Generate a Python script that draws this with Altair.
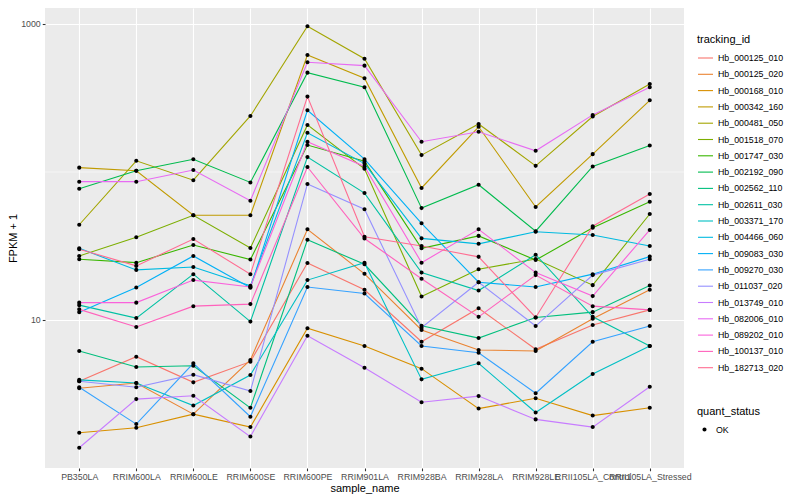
import altair as alt
import pandas as pd

samples = ["PB350LA", "RRIM600LA", "RRIM600LE", "RRIM600SE", "RRIM600PE", "RRIM901LA",
           "RRIM928BA", "RRIM928LA", "RRIM928LE", "RRII105LA_Control", "RRII105LA_Stressed"]

tracking_ids = ["Hb_000125_010", "Hb_000125_020", "Hb_000168_010", "Hb_000342_160", "Hb_000481_050",
                "Hb_001518_070", "Hb_001747_030", "Hb_002192_090", "Hb_002562_110", "Hb_002611_030",
                "Hb_003371_170", "Hb_004466_060", "Hb_009083_030", "Hb_009270_030", "Hb_011037_020",
                "Hb_013749_010", "Hb_082006_010", "Hb_089202_010", "Hb_100137_010", "Hb_182713_020"]

colors = ["#F8766D", "#EA8331", "#D89000", "#C09B00", "#A3A500", "#7CAE00", "#39B600", "#00BB4E",
          "#00BF7D", "#00C1A3", "#00BFC4", "#00BAE0", "#00B0F6", "#35A2FF", "#9590FF", "#C77CFF",
          "#E76BF3", "#FA62DB", "#FF62BC", "#FF6C91"]

# FPKM + 1 per sample (same order as samples)
hb_000125_010 = [3.86, 5.65, 3.79, 5.23, 24.3, 16.0, 7.13, 12.0, 6.34, 9.25, 11.7]
hb_000125_020 = [3.46, 3.75, 2.31, 5.37, 41.0, 20.5, 8.56, 6.27, 6.17, 10.2, 16.0]
hb_000168_010 = [1.73, 1.87, 2.31, 1.89, 8.79, 6.67, 4.69, 2.52, 2.96, 2.26, 2.55]
hb_000342_160 = [107, 102, 51, 51, 617, 430, 78, 202, 58, 132, 305]
hb_000481_050 = [44, 119, 88, 239, 964, 583, 130, 211, 110, 237, 393]
hb_001518_070 = [27.1, 36.2, 51, 30.6, 208, 105, 14.4, 22.0, 25.8, 17.2, 52]
hb_001747_030 = [25.7, 24.4, 32.1, 25.6, 152, 118, 30.5, 37, 25.4, 42, 63]
hb_002192_090 = [77, 102, 122, 85, 469, 374, 57, 82, 39.8, 109, 151]
hb_002562_110 = [6.17, 4.81, 4.91, 2.55, 34.8, 23.8, 9.15, 7.55, 10.4, 11.3, 17.1]
hb_002611_030 = [12.6, 10.3, 20.4, 9.75, 126, 72, 20.9, 15.8, 27.6, 10.5, 6.67]
hb_003371_170 = [3.94, 3.75, 2.64, 4.25, 18.6, 24.4, 3.97, 5.10, 2.37, 4.32, 6.67]
hb_004466_060 = [30.5, 21.8, 22.8, 17.0, 184, 114, 35.6, 32.7, 39.5, 37.5, 31.6]
hb_009083_030 = [11.3, 16.6, 27.1, 16.5, 261, 122, 45, 18.0, 16.7, 20.4, 26.8]
hb_009270_030 = [3.51, 1.98, 5.10, 2.22, 16.7, 15.1, 6.67, 6.01, 3.20, 7.13, 9.1]
hb_011037_020 = [3.86, 3.51, 4.27, 3.31, 83, 56, 8.87, 18.0, 9.1, 20.1, 25.7]
hb_013749_010 = [1.37, 2.92, 3.08, 1.63, 7.83, 4.76, 2.78, 3.06, 2.13, 1.89, 3.54]
hb_082006_010 = [86, 86, 103, 64, 551, 523, 160, 187, 139, 243, 374]
hb_089202_010 = [13.1, 13.1, 18.6, 16.7, 160, 109, 24.4, 41, 20.9, 14.5, 40.6]
hb_100137_010 = [11.8, 8.97, 12.4, 12.8, 108, 35.5, 19.0, 10.5, 20.1, 12.4, 11.7]
hb_182713_020 = [30.1, 23.2, 35.2, 20.4, 323, 36.5, 31.6, 26.7, 10.4, 43, 71]

series = [hb_000125_010, hb_000125_020, hb_000168_010, hb_000342_160, hb_000481_050,
          hb_001518_070, hb_001747_030, hb_002192_090, hb_002562_110, hb_002611_030,
          hb_003371_170, hb_004466_060, hb_009083_030, hb_009270_030, hb_011037_020,
          hb_013749_010, hb_082006_010, hb_089202_010, hb_100137_010, hb_182713_020]

rows = []
for tid, vals in zip(tracking_ids, series):
    for s, v in zip(samples, vals):
        rows.append({"tracking_id": tid, "sample_name": s, "fpkm": v, "quant_status": "OK"})
df = pd.DataFrame(rows)

FONT = "Liberation Sans"
dot_path = "M-0.27,0A0.27,0.27,0,1,1,0.27,0A0.27,0.27,0,1,1,-0.27,0Z"

x_enc = alt.X("sample_name:N", sort=samples,
              scale=alt.Scale(type="point", padding=0.6),
              axis=alt.Axis(title="sample_name", labelAngle=0, labelOverlap=False,
                            grid=True, gridColor="white", gridWidth=1.1,
                            labelPadding=1.5, titlePadding=1))
y_enc = alt.Y("fpkm:Q", title="FPKM + 1",
              scale=alt.Scale(type="log", domain=[1, 1282], nice=False),
              axis=alt.Axis(values=[10, 1000], format="d", grid=True,
                            gridColor="white", gridWidth=1.1))

minor = alt.Chart(pd.DataFrame({"fpkm": [100]})).mark_rule(
    color="white", strokeWidth=0.55).encode(y=alt.Y("fpkm:Q"))

lines = alt.Chart(df).mark_line(strokeWidth=1.1).encode(
    x=x_enc, y=y_enc,
    color=alt.Color("tracking_id:N",
                    scale=alt.Scale(domain=tracking_ids, range=colors),
                    legend=alt.Legend(title="tracking_id", orient="none", legendX=652, legendY=25.5,
                                      symbolType="stroke", symbolSize=225, symbolStrokeWidth=1.1,
                                      rowPadding=2.3, titlePadding=5, labelOffset=4,
                                      labelFontSize=8.8, labelColor="black",
                                      titleFontSize=11, titleFontWeight="normal",
                                      titleColor="black", padding=0)),
)

points = alt.Chart(df).mark_point(filled=True, color="black", opacity=1, size=225,
                                  strokeWidth=0).encode(
    x=x_enc, y=y_enc,
    shape=alt.Shape("quant_status:N",
                    scale=alt.Scale(domain=["OK"], range=[dot_path]),
                    legend=alt.Legend(title="quant_status", orient="none", legendX=652, legendY=398,
                                      symbolSize=225, symbolFillColor="black",
                                      symbolStrokeWidth=0, titlePadding=5, labelOffset=4,
                                      labelFontSize=8.8, labelColor="black",
                                      titleFontSize=11, titleFontWeight="normal",
                                      titleColor="black", padding=0)),
)

chart = alt.layer(minor, lines, points).properties(
    width=639, height=460,
    autosize=alt.AutoSizeParams(type="none"),
    padding={"left": 37, "top": 0, "right": 108, "bottom": 27},
).configure_view(
    fill="#EBEBEB", stroke=None
).configure_axis(
    labelFont=FONT, titleFont=FONT, labelFontSize=8.8, labelColor="#4D4D4D",
    tickColor="#333333", tickSize=2.75, tickWidth=1.07, domain=False,
    titleFontSize=11, titleFontWeight="normal", titleColor="black",
    labelPadding=2, titlePadding=2
).configure_legend(
    labelFont=FONT, titleFont=FONT
)

chart.save("out.html", embed_options={"renderer": "svg", "actions": False})
